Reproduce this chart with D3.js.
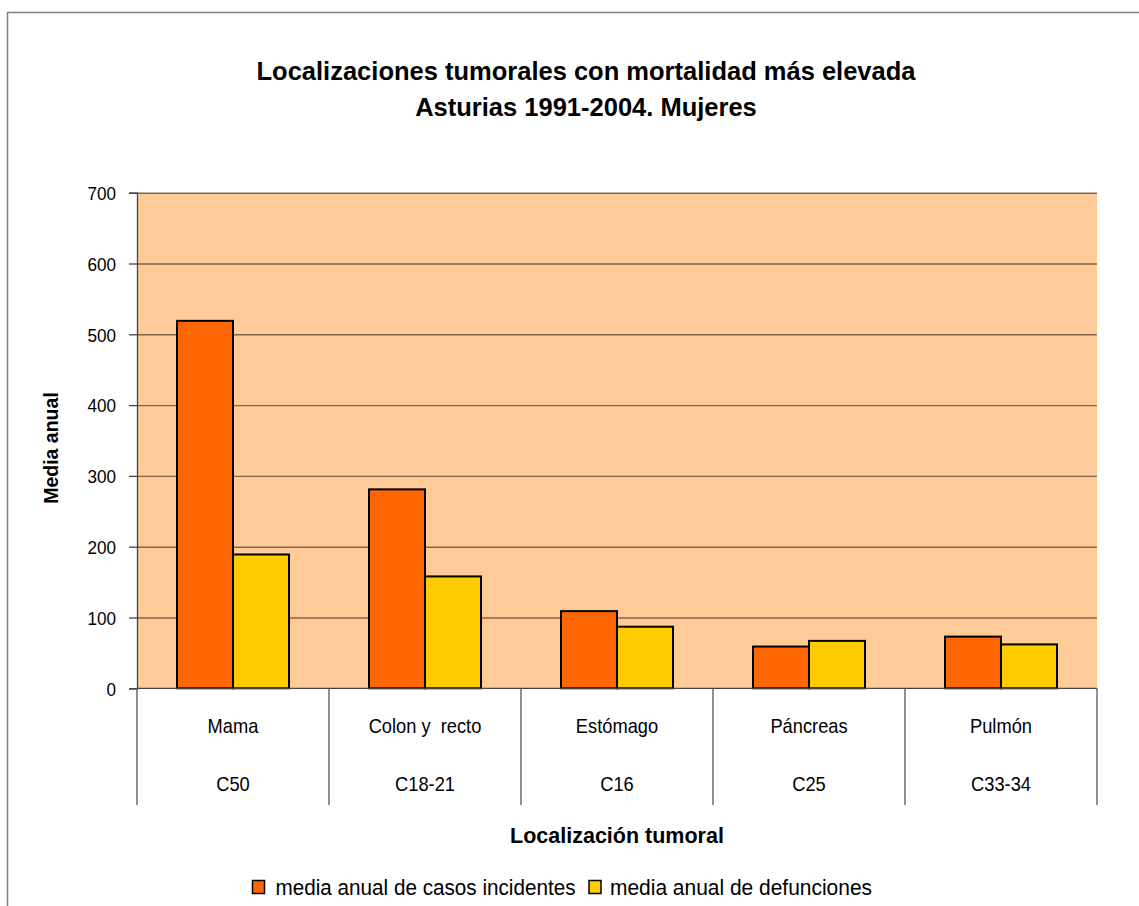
<!DOCTYPE html>
<html>
<head>
<meta charset="utf-8">
<script src="https://cdn.jsdelivr.net/npm/d3@7/dist/d3.min.js"></script>
<style>
  html, body { margin: 0; padding: 0; background: #fff; }
  svg { display: block; font-family: "Liberation Sans", Arial, sans-serif; }
</style>
</head>
<body>
<svg id="chart" width="1139" height="906"></svg>
<script>
// Localizaciones tumorales con mortalidad más elevada, Asturias 1991-2004, mujeres
const categories = ["Mama", "Colon y  recto", "Estómago", "Páncreas", "Pulmón"];
const codes = ["C50", "C18-21", "C16", "C25", "C33-34"];
const incidentes = [519, 281, 109, 59, 73];
const defunciones = [189, 158, 87, 67, 62];
const seriesNames = ["media anual de casos incidentes", "media anual de defunciones"];
const seriesColors = ["#FF6600", "#FFCC00"];
const yTicks = [0, 100, 200, 300, 400, 500, 600, 700];
const titleLines = ["Localizaciones tumorales con mortalidad más elevada", "Asturias 1991-2004. Mujeres"];

const svg = d3.select("#chart");

// squeeze a text element horizontally to a fraction of its natural width
function squeeze(sel, factor) {
  sel.each(function () {
    const w = this.getComputedTextLength();
    d3.select(this).attr("textLength", w * factor).attr("lengthAdjust", "spacingAndGlyphs");
  });
}

// outer chart frame
svg.append("rect")
  .attr("x", 7.5).attr("y", 12.5).attr("width", 1200).attr("height", 1000)
  .attr("fill", "none").attr("stroke", "#808080").attr("stroke-width", 1.5);

const plot = { left: 137, right: 1097, top: 192.7, bottom: 688.3 };

const x0 = d3.scaleBand().domain(categories).range([plot.left, plot.right]).paddingInner(0).paddingOuter(0);
const x1 = d3.scaleBand().domain([0, 1]).range([0, x0.bandwidth()]).paddingInner(0).paddingOuter(0.714);
const y = d3.scaleLinear().domain([0, 700]).range([plot.bottom, plot.top]);

// plot background
svg.append("rect")
  .attr("x", plot.left).attr("y", plot.top)
  .attr("width", plot.right - plot.left).attr("height", plot.bottom - plot.top)
  .attr("fill", "#FFCC99");

// horizontal gridlines
const grid = svg.append("g")
  .attr("transform", `translate(${plot.left},0)`)
  .call(d3.axisLeft(y).tickValues(yTicks.slice(1)).tickSize(-(plot.right - plot.left)).tickFormat(""));
grid.select(".domain").remove();
grid.selectAll("line").attr("stroke", "#000").attr("stroke-opacity", 0.5).attr("stroke-width", 1.4);

// bars
const data = categories.map((c, i) => ({ cat: c, values: [incidentes[i], defunciones[i]] }));
const groups = svg.append("g").selectAll("g").data(data).join("g")
  .attr("transform", d => `translate(${x0(d.cat)},0)`);
groups.selectAll("rect").data(d => d.values.map((v, k) => ({ v, k }))).join("rect")
  .attr("x", d => x1(d.k))
  .attr("y", d => y(d.v))
  .attr("width", x1.bandwidth())
  .attr("height", d => y(0) - y(d.v))
  .attr("fill", d => seriesColors[d.k])
  .attr("stroke", "#000").attr("stroke-width", 2);

// y axis
const yAxis = svg.append("g")
  .attr("transform", `translate(${plot.left},0)`)
  .call(d3.axisLeft(y).tickValues(yTicks).tickSize(8).tickPadding(13));
yAxis.select(".domain").attr("stroke", "#444").attr("stroke-width", 1.3);
yAxis.selectAll(".tick line").attr("stroke", "#444").attr("stroke-width", 1.3);
yAxis.selectAll(".tick text")
  .attr("fill", "#000").style("font-size", "19px").style("font-family", "'Liberation Sans', Arial, sans-serif")
  .attr("dy", "0.36em");
squeeze(yAxis.selectAll(".tick text"), 0.9);

// x axis baseline and category separators
svg.append("line")
  .attr("x1", plot.left).attr("x2", plot.right).attr("y1", plot.bottom).attr("y2", plot.bottom)
  .attr("stroke", "#444").attr("stroke-width", 1.3);
const bounds = categories.map(c => x0(c)).concat([x0(categories[categories.length - 1]) + x0.bandwidth()]);
svg.append("g").selectAll("line").data(bounds).join("line")
  .attr("x1", d => d).attr("x2", d => d)
  .attr("y1", plot.bottom).attr("y2", 805)
  .attr("stroke", "#555").attr("stroke-width", 1.3);

// category names and codes
const catLabels = svg.append("g").selectAll("text").data(categories).join("text")
  .attr("x", d => x0(d) + x0.bandwidth() / 2)
  .attr("y", 733)
  .attr("text-anchor", "middle")
  .style("font-size", "21px").style("white-space", "pre")
  .text(d => d);
squeeze(catLabels, 0.87);
const codeLabels = svg.append("g").selectAll("text").data(codes).join("text")
  .attr("x", (d, i) => x0(categories[i]) + x0.bandwidth() / 2)
  .attr("y", 791)
  .attr("text-anchor", "middle")
  .style("font-size", "21px")
  .text(d => d);
squeeze(codeLabels, 0.87);

// title
svg.append("g").selectAll("text").data(titleLines).join("text")
  .attr("x", 586).attr("y", (d, i) => 80 + i * 36)
  .attr("text-anchor", "middle")
  .style("font-size", "25.5px").style("font-weight", "bold")
  .text(d => d);

// axis titles
svg.append("text")
  .attr("x", 617).attr("y", 843)
  .attr("text-anchor", "middle")
  .style("font-size", "21.5px").style("font-weight", "bold")
  .text("Localización tumoral");
svg.append("text")
  .attr("transform", "translate(58,448) rotate(-90)")
  .attr("text-anchor", "middle")
  .style("font-size", "19.5px").style("font-weight", "bold")
  .text("Media anual");

// legend
const legend = svg.append("g");
const ly = 887;
const legendItems = [
  { sx: 252.5, tx: 275.5, tw: 300 },
  { sx: 589, tx: 610, tw: 262 }
];
seriesNames.forEach((name, k) => {
  const it = legendItems[k];
  legend.append("rect")
    .attr("x", it.sx).attr("y", ly - 6.5).attr("width", 12).attr("height", 13)
    .attr("fill", seriesColors[k]).attr("stroke", "#000").attr("stroke-width", 1.5);
  legend.append("text")
    .attr("x", it.tx).attr("y", ly + 7.5)
    .style("font-size", "21.5px")
    .attr("textLength", it.tw).attr("lengthAdjust", "spacingAndGlyphs")
    .text(name);
});
</script>
</body>
</html>
